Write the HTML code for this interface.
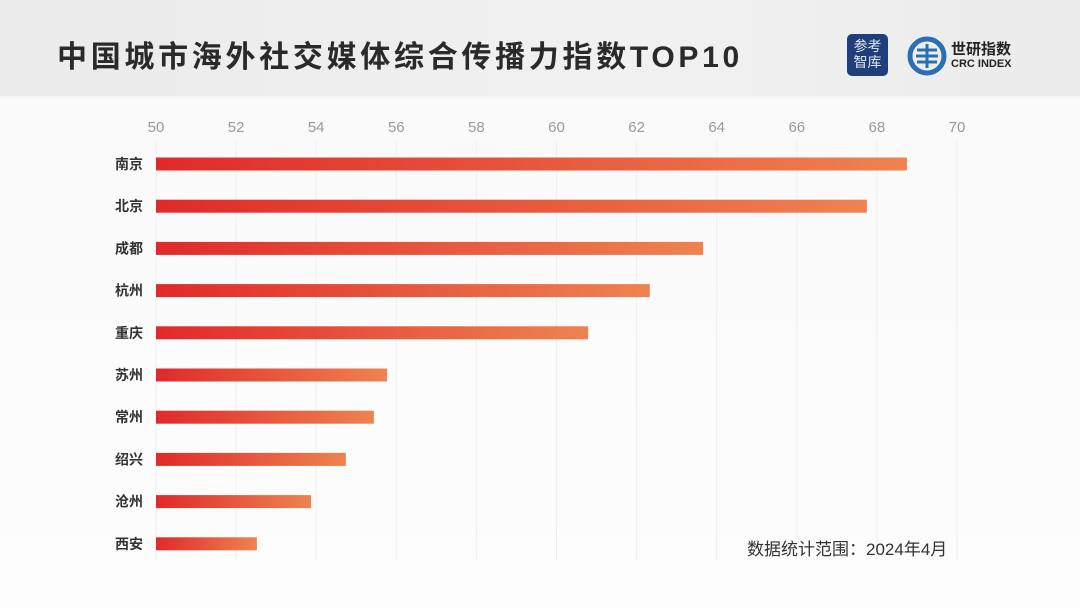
<!DOCTYPE html>
<html><head><meta charset="utf-8"><style>
body{margin:0;width:1080px;height:608px;overflow:hidden;font-family:"Liberation Sans","Noto Sans CJK SC",sans-serif;}
.bg{position:absolute;left:0;top:0;width:1080px;height:608px;background:linear-gradient(180deg,#ececec 0,#f2f2f2 95px,#fafafa 100px,#fdfdfd 608px);}
.header{position:absolute;left:0;top:0;width:1080px;height:96px;background:linear-gradient(90deg,#ebebeb,#f1f1f1 60%,#ebebeb);}
h1{position:absolute;left:57px;top:32px;margin:0;font-size:30px;font-weight:bold;color:#2a2a2a;letter-spacing:3.7px;font-family:"Liberation Sans","Noto Sans CJK SC",sans-serif;}
</style></head><body>
<div class="bg"></div>
<div class="header"></div>
<h1>中国城市海外社交媒体综合传播力指数TOP10</h1>
<div style="position:absolute;left:847px;top:34px;width:41px;height:42px;background:#1f3f7a;border-radius:5px;color:#dfe6f3;font-size:14px;line-height:16px;text-align:center;padding-top:4px;box-sizing:border-box;">参考<br>智库</div>
<svg style="position:absolute;left:907px;top:36px" width="40" height="40" viewBox="0 0 40 40">
<circle cx="20" cy="20" r="17" fill="none" stroke="#2b6fb3" stroke-width="5"/>
<path d="M10 14h20M9 20h22M10 26h20M20 8v24" stroke="#2b6fb3" stroke-width="3"/>
</svg>
<div style="position:absolute;left:951px;top:42px;color:#222;">
<div style="font-size:15px;font-weight:bold;line-height:16px;">世研指数</div>
<div style="font-size:11px;font-weight:bold;line-height:13px;">CRC INDEX</div></div>
<svg id="chart" width="1080" height="608" style="position:absolute;left:0;top:0">
<defs><linearGradient id="g" x1="0" x2="1" y1="0" y2="0"><stop offset="0" stop-color="#e02a2a"/><stop offset="1" stop-color="#ee8350"/></linearGradient></defs>
</svg>
<div style="position:absolute;left:747px;top:535px;font-size:17px;color:#333;">数据统计范围：2024年4月</div>
<script>
const categories=["南京","北京","成都","杭州","重庆","苏州","常州","绍兴","沧州","西安"];
const values=[68.75,67.75,63.66,62.33,60.79,55.77,55.44,54.74,53.87,52.52];
const ticks=[50,52,54,56,58,60,62,64,66,68,70];
const svg=document.getElementById('chart');
const NS='http://www.w3.org/2000/svg';
const x=v=>156+(v-50)*(957-156)/20;
const y=i=>164+i*42.2;
ticks.forEach(t=>{
 const l=document.createElementNS(NS,'line');
 
 
 l.setAttribute('x1',x(t));l.setAttribute('x2',x(t));l.setAttribute('y1',140);l.setAttribute('y2',560);
 l.setAttribute('stroke','#f0f0f0');l.setAttribute('stroke-width',1);svg.appendChild(l);
 const tx=document.createElementNS(NS,'text');
 
 
 tx.setAttribute('x',x(t));tx.setAttribute('y',132);tx.setAttribute('text-anchor','middle');
 tx.setAttribute('font-size',15);tx.setAttribute('fill','#999');tx.textContent=t;svg.appendChild(tx);
});
categories.forEach((c,i)=>{
 const r=document.createElementNS(NS,'rect');
 
 
 r.setAttribute('x',x(50));r.setAttribute('y',y(i)-6.5);r.setAttribute('width',x(values[i])-x(50));r.setAttribute('height',13);
 r.setAttribute('fill','url(#g)');svg.appendChild(r);
 const tx=document.createElementNS(NS,'text');
 
 
 tx.setAttribute('x',143);tx.setAttribute('y',y(i)+5);tx.setAttribute('text-anchor','end');
 tx.setAttribute('font-size',14);tx.setAttribute('font-weight','bold');tx.setAttribute('fill','#333');tx.textContent=c;svg.appendChild(tx);
});
</script>
</body></html>
